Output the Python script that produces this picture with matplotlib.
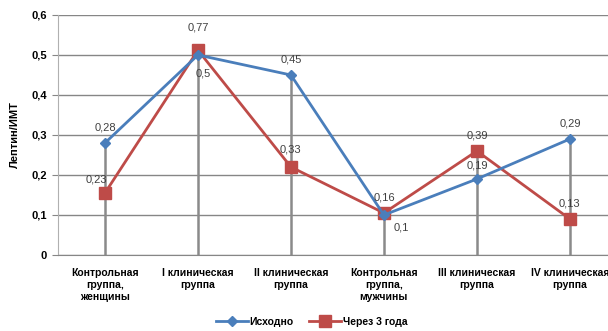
import matplotlib
matplotlib.use("Agg")
import matplotlib.pyplot as plt
import numpy as np

categories = [
    "Контрольная\nгруппа,\nженщины",
    "I клиническая\nгруппа",
    "II клиническая\nгруппа",
    "Контрольная\nгруппа,\nмужчины",
    "III клиническая\nгруппа",
    "IV клиническая\nгруппа",
]
series_names = ["Исходно", "Через 3 года"]
baseline = [0.28, 0.50, 0.45, 0.10, 0.19, 0.29]
after3 = [0.155, 0.512, 0.22, 0.105, 0.26, 0.09]

# data labels as printed on the chart
baseline_labels = ["0,28", "0,5", "0,45", "0,16", "0,19", "0,29"]
after3_labels = ["0,23", "0,77", "0,33", "0,1", "0,39", "0,13"]

yticks = [0, 0.1, 0.2, 0.3, 0.4, 0.5, 0.6]
ytick_labels = ["0", "0,1", "0,2", "0,3", "0,4", "0,5", "0,6"]
ylabel = "Лептин/ИМТ"

blue = "#4A7EBB"
red = "#BE4B48"
grid_c = "#868686"

plt.rcParams["font.family"] = ["Liberation Sans", "DejaVu Sans"]

fig = plt.figure(figsize=(6.08, 3.31), dpi=100)
ax = fig.add_axes([58 / 608, 1 - 255 / 331, 1 - 58 / 608, (255 - 15) / 331])

x = np.arange(len(categories))

# drop lines
tops = np.maximum(baseline, after3)
ax.vlines(x, 0, tops, color="#8a8a8a", lw=1.8, zorder=2)

ax.plot(x, baseline, color=blue, lw=2.0, marker="D", ms=5, mfc=blue, mec=blue,
        label=series_names[0], zorder=4)
ax.plot(x, after3, color=red, lw=2.0, marker="s", ms=8.5, mfc=red, mec=red,
        label=series_names[1], zorder=3)

# label offsets in pixels (dx, dy)
b_off = [(0, 16), (5, -18), (0, 16), (1, 18), (0, 14), (0, 16)]
r_off = [(-9, 13), (0, 23), (0, 17), (17, -15), (0, 16), (0, 16)]
for i in range(len(x)):
    ax.annotate(baseline_labels[i], (x[i], baseline[i]),
                xytext=(b_off[i][0] * 0.72, b_off[i][1] * 0.72), textcoords="offset points",
                ha="center", va="center", fontsize=8, color="#404040", zorder=6)
    ax.annotate(after3_labels[i], (x[i], after3[i]),
                xytext=(r_off[i][0] * 0.72, r_off[i][1] * 0.72), textcoords="offset points",
                ha="center", va="center", fontsize=8, color="#404040", zorder=6)

ax.set_xlim(-0.505, 5.41)
ax.set_ylim(0, 0.6)
ax.set_yticks(yticks)
ax.set_yticklabels(ytick_labels, fontsize=8, fontweight="bold")
ax.set_xticks(x)
ax.set_xticklabels(categories, fontsize=7.5, fontweight="bold", linespacing=1.25)
ax.tick_params(axis="x", length=0, pad=9)
ax.tick_params(axis="y", length=4, color=grid_c, pad=4)
ax.grid(axis="y", color=grid_c, lw=1.0)
ax.set_axisbelow(True)
for s in ["top", "right"]:
    ax.spines[s].set_visible(False)
ax.spines["left"].set_color("#b0b0b0")
ax.spines["bottom"].set_color(grid_c)
ax.set_ylabel(ylabel, fontsize=8, fontweight="bold", labelpad=8)

leg = fig.legend(loc="center", bbox_to_anchor=(0.513, 0.027), ncol=2, frameon=False,
                 prop={"size": 7.5, "weight": "bold"}, handlelength=3, columnspacing=1.5,
                 handletextpad=0.2)

fig.savefig("out.png", dpi=100)
